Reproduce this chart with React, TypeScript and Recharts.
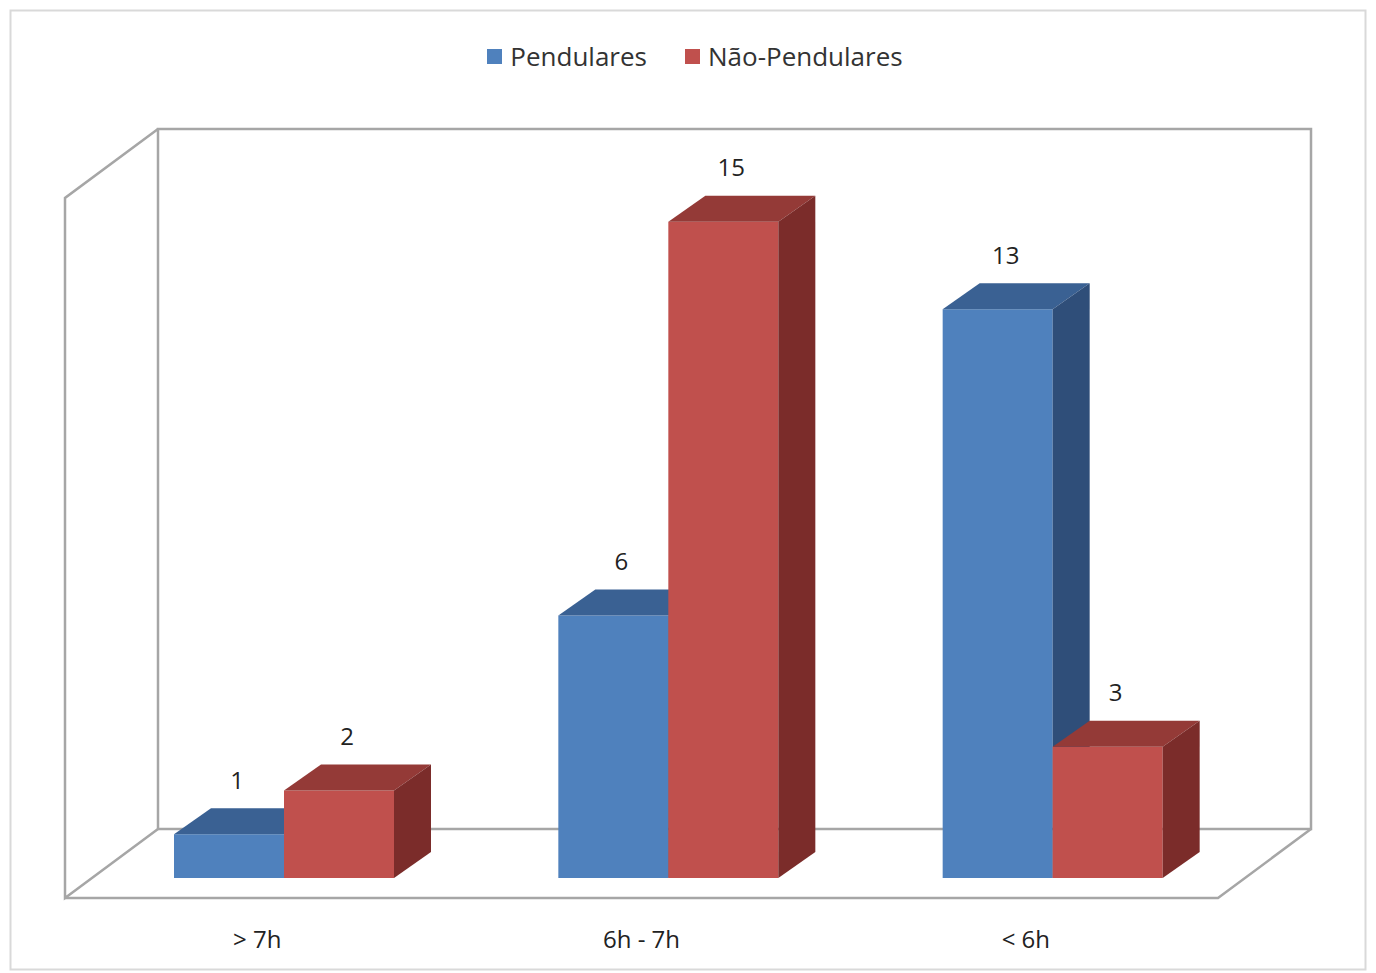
import React from "react";
import { Bar, BarChart, LabelList, Legend, XAxis, YAxis } from "recharts";

const categories = ["> 7h", "6h - 7h", "< 6h"];
const pendulares = [1, 6, 13];
const naoPendulares = [2, 15, 3];
const yMax = 16;

const seriesNames = { pendulares: "Pendulares", naoPendulares: "Não-Pendulares" };

const data = categories.map((name, i) => ({
  name,
  pendulares: pendulares[i],
  naoPendulares: naoPendulares[i],
}));

const W = 1376;
const H = 973;
const FONT = "'Open Sans', 'Liberation Sans', sans-serif";
const AXIS_H = 30;
// plot area is the plane the bar fronts sit in
const margin = { top: 178, right: 131, bottom: 95 - AXIS_H, left: 92 };
const PLOT = { l: margin.left, t: margin.top, r: W - margin.right, b: H - 95 };
// bar depth and wall offsets (front edge of floor, back wall) relative to the bar plane
const DEPTH = { dx: 37, dy: 26 };
const FRONT = { dx: -27, dy: 20 };
const BACK = { dx: 66, dy: -49 };

const BLUE = { front: "#4f81bd", top: "#3a6193", side: "#2f4e79" };
const RED = { front: "#c0504d", top: "#943a37", side: "#7b2c2a" };

function bar3d(c: { front: string; top: string; side: string }) {
  return (props: any) => {
    const { x, y, width: w, height: h } = props;
    if (h == null || w == null) return null;
    const { dx, dy } = DEPTH;
    return (
      <g>
        <rect x={x} y={y} width={w} height={h} fill={c.front} />
        <polygon
          points={`${x},${y} ${x + dx},${y - dy} ${x + w + dx},${y - dy} ${x + w},${y}`}
          fill={c.top}
        />
        <polygon
          points={`${x + w},${y} ${x + w + dx},${y - dy} ${x + w + dx},${y + h - dy} ${x + w},${y + h}`}
          fill={c.side}
        />
      </g>
    );
  };
}

function valueLabel(props: any) {
  const { x, y, width, value } = props;
  return (
    <text
      x={x + width / 2 + 8}
      y={y - 55}
      textAnchor="middle"
      dominantBaseline="central"
      fontFamily={FONT}
      fontSize={24}
      fill="#222"
    >
      {value}
    </text>
  );
}

function categoryTick(props: any) {
  const { x, payload } = props;
  return (
    <text
      x={x + FRONT.dx}
      y={938}
      textAnchor="middle"
      dominantBaseline="central"
      fontFamily={FONT}
      fontSize={24}
      fill="#222"
    >
      {payload.value}
    </text>
  );
}

function legendContent() {
  const items = [
    { label: seriesNames.pendulares, color: BLUE.front },
    { label: seriesNames.naoPendulares, color: RED.front },
  ];
  return (
    <div
      style={{
        display: "flex",
        justifyContent: "center",
        gap: 38,
        paddingLeft: 14,
        fontFamily: FONT,
        fontSize: 26,
        color: "#333",
      }}
    >
      {items.map((it) => (
        <div key={it.label} style={{ display: "flex", alignItems: "center", gap: 8 }}>
          <span style={{ width: 15, height: 15, background: it.color, display: "inline-block" }} />
          <span>{it.label}</span>
        </div>
      ))}
    </div>
  );
}

// 3D box: back wall, left wall and floor outlines
function Frame() {
  const back = { l: PLOT.l + BACK.dx, t: PLOT.t + BACK.dy, r: PLOT.r + BACK.dx, b: PLOT.b + BACK.dy };
  const front = { l: PLOT.l + FRONT.dx, t: PLOT.t + FRONT.dy, r: PLOT.r + FRONT.dx, b: PLOT.b + FRONT.dy };
  const stroke = "#a6a6a6";
  return (
    <svg width={W} height={H} style={{ position: "absolute", left: 0, top: 0 }}>
      <rect x={10.5} y={10.5} width={W - 21} height={H - 14} fill="#fff" stroke="#d9d9d9" strokeWidth={2} />
      <g fill="none" stroke={stroke} strokeWidth={2.5}>
        <rect x={back.l} y={back.t} width={back.r - back.l} height={back.b - back.t} />
        <polyline points={`${back.l},${back.t} ${front.l},${front.t} ${front.l},${front.b} ${back.l},${back.b}`} />
        <polyline points={`${front.l},${front.b} ${front.r},${front.b} ${back.r},${back.b}`} />
      </g>
    </svg>
  );
}

export default function App() {
  return (
    <div style={{ position: "absolute", left: 0, top: 0, width: W, height: H }}>
      <Frame />
      <div style={{ position: "absolute", left: 0, top: 0 }}>
        <BarChart
          width={W}
          height={H}
          data={data}
          margin={margin}
          barGap={0}
          barSize={110}
        >
          <XAxis
            dataKey="name"
            height={AXIS_H}
            axisLine={false}
            tickLine={false}
            tick={categoryTick}
            interval={0}
          />
          <YAxis hide domain={[0, yMax]} />
          <Legend
            verticalAlign="middle"
            align="center"
            content={legendContent}
            wrapperStyle={{ top: 38, left: 0, width: W }}
          />
          <Bar
            dataKey="pendulares"
            name={seriesNames.pendulares}
            fill={BLUE.front}
            shape={bar3d(BLUE)}
            isAnimationActive={false}
          >
            <LabelList dataKey="pendulares" content={valueLabel} />
          </Bar>
          <Bar
            dataKey="naoPendulares"
            name={seriesNames.naoPendulares}
            fill={RED.front}
            shape={bar3d(RED)}
            isAnimationActive={false}
          >
            <LabelList dataKey="naoPendulares" content={valueLabel} />
          </Bar>
        </BarChart>
      </div>
    </div>
  );
}
